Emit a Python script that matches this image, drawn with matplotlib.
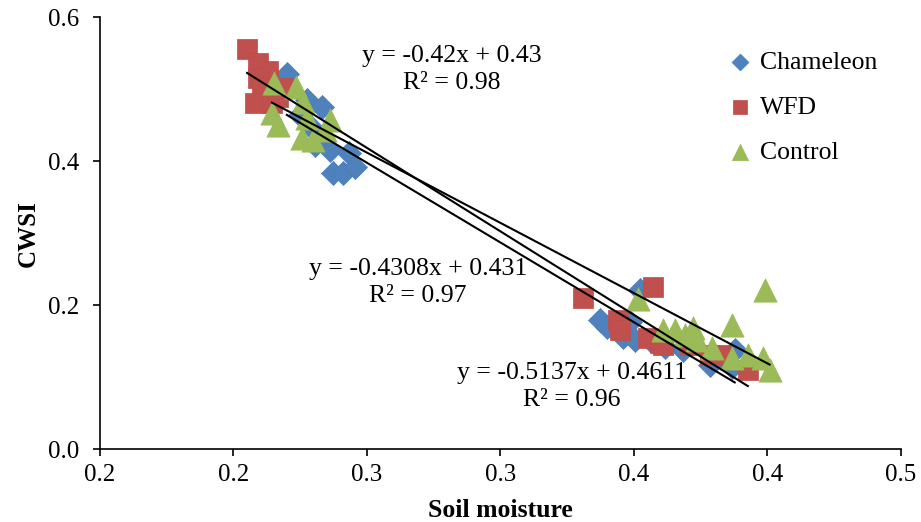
import matplotlib.pyplot as plt
import numpy as np

plt.rcParams['font.family'] = ['Liberation Serif', 'DejaVu Serif']

# Chameleon
cham_x = [0.2700, 0.2775, 0.2831, 0.2749, 0.2794, 0.2831, 0.2861, 0.2932, 0.2873, 0.2910, 0.2955, 0.2805,
          0.3873, 0.3899, 0.3959, 0.4004, 0.3985, 0.4022, 0.4183, 0.4284, 0.4367, 0.4378, 0.4060, 0.4116]
cham_y = [0.521, 0.485, 0.475, 0.464, 0.446, 0.429, 0.415, 0.411, 0.383, 0.383, 0.392, 0.422,
          0.179, 0.169, 0.156, 0.151, 0.176, 0.221, 0.138, 0.117, 0.114, 0.138, 0.151, 0.142]

# WFD
wfd_x = [0.2551, 0.2592, 0.2629, 0.2592, 0.2607, 0.2685, 0.2580, 0.2644, 0.2667,
         0.3809, 0.4071, 0.3940, 0.3947, 0.4052, 0.4097, 0.4108, 0.4284, 0.4322, 0.4427, 0.4210]
wfd_y = [0.556, 0.536, 0.525, 0.515, 0.501, 0.501, 0.481, 0.481, 0.489,
         0.210, 0.225, 0.179, 0.165, 0.154, 0.147, 0.144, 0.131, 0.131, 0.110, 0.144]

# Control
ctrl_x = [0.2652, 0.2734, 0.2644, 0.2667, 0.2757, 0.2798, 0.2760, 0.2775, 0.2843, 0.2861,
          0.4015, 0.4108, 0.4153, 0.4191, 0.4221, 0.4236, 0.4292, 0.4367, 0.4427, 0.4483, 0.4509, 0.4490, 0.4367]
ctrl_y = [0.508, 0.503, 0.467, 0.450, 0.432, 0.429, 0.482, 0.460, 0.443, 0.457,
          0.208, 0.165, 0.165, 0.158, 0.168, 0.151, 0.140, 0.126, 0.131, 0.126, 0.110, 0.221, 0.172]

x_ticks = [0.20, 0.25, 0.30, 0.35, 0.40, 0.45, 0.50]
x_tick_labels = ["0.2", "0.2", "0.3", "0.3", "0.4", "0.4", "0.5"]
y_ticks = [0.0, 0.2, 0.4, 0.6]

equations = ["y = -0.42x + 0.43\nR² = 0.98",
             "y = -0.4308x + 0.431\nR² = 0.97",
             "y = -0.5137x + 0.4611\nR² = 0.96"]
eq_pos = [(0.3318, 0.527), (0.3191, 0.231), (0.3768, 0.087)]

fig = plt.figure(figsize=(9.21, 5.22), dpi=100)
ax = fig.add_axes([0.1086, 0.1398, 0.8694, 0.8272])

ax.scatter(cham_x, cham_y, marker="D", s=150, c="#4F81BD", edgecolors="#4A7EBB", linewidths=0.5, label="Chameleon", zorder=3)
ax.scatter(wfd_x, wfd_y, marker="s", s=200, c="#C0504D", edgecolors="#BE4B48", linewidths=0.5, label="WFD", zorder=3)
ax.scatter(ctrl_x, ctrl_y, marker="^", s=280, c="#9BBB59", edgecolors="#98B954", linewidths=0.5, label="Control", zorder=3)

# linear trendlines over each series range
for xs, ys in [(wfd_x, wfd_y), (cham_x, cham_y), (ctrl_x, ctrl_y)]:
    k, b = np.polyfit(xs, ys, 1)
    xx = np.array([min(xs), max(xs)])
    ax.plot(xx, k * xx + b, color="black", lw=1.5, zorder=4)

for txt, (tx, ty) in zip(equations, eq_pos):
    ax.text(tx, ty, txt, ha="center", va="center", fontsize=18.5, linespacing=1.27, zorder=5)

ax.set_xlim(0.2, 0.5)
ax.set_ylim(0, 0.6)
ax.set_xticks(x_ticks)
ax.set_xticklabels(x_tick_labels)
ax.set_yticks(y_ticks)
ax.set_yticklabels([f"{v:.1f}" for v in y_ticks])
ax.tick_params(labelsize=18, direction="out", length=5, width=1.2)
ax.tick_params(axis="y", pad=10)
ax.tick_params(axis="x", pad=6)
ax.spines["top"].set_visible(False)
ax.spines["right"].set_visible(False)
ax.spines["left"].set_linewidth(1.2)
ax.spines["bottom"].set_linewidth(1.2)

ax.set_xlabel("Soil moisture", fontsize=18.5, fontweight="bold", labelpad=9)
ax.set_ylabel("CWSI", fontsize=18, fontweight="bold", labelpad=6)

ax.legend(loc="upper left", bbox_to_anchor=(0.754, 0.946), frameon=False, fontsize=18.5,
          handletextpad=-0.2, labelspacing=0.86, markerscale=0.7, borderaxespad=0)

fig.savefig("out.png", dpi=100)
